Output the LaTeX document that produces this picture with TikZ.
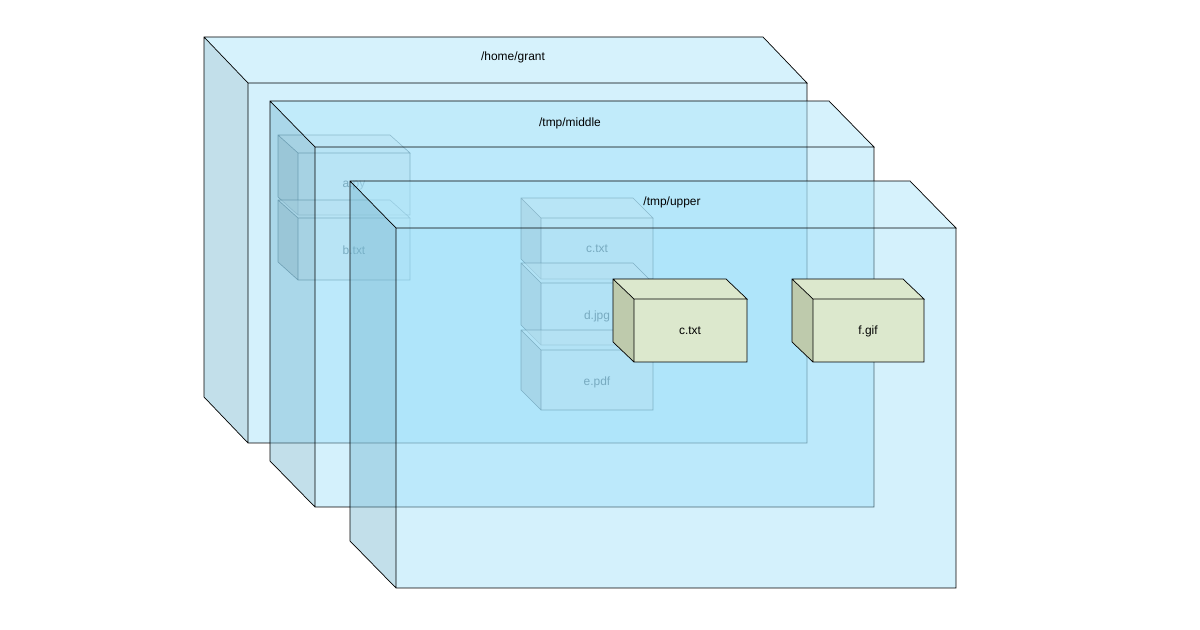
\documentclass[tikz,border=0pt]{standalone}
\usepackage{fontspec}
\setmainfont{Liberation Sans}
\definecolor{bfront}{RGB}{160,225,250}
\definecolor{btop}{RGB}{175,230,250}
\definecolor{bside}{RGB}{120,185,210}
\definecolor{gfront}{RGB}{220,232,205}
\definecolor{gside}{RGB}{190,202,172}
\definecolor{ffront}{RGB}{200,225,235}
\definecolor{fside}{RGB}{160,185,195}
\definecolor{fline}{RGB}{60,100,120}
% #1 x1, #2 y1 front top-left, #3 x2, #4 y2 front bottom-right, #5 dx, #6 dy, #7 style suffix
\newcommand\mycube[7]{%
  \fill[#7side] (#1,#2) -- ++(#5,#6) -- ++(0,#4-#2) -- (#1,#4) -- cycle;
  \fill[#7top] (#1,#2) -- ++(#5,#6) -- ++(#3-#1,0) -- (#3,#2) -- cycle;
  \fill[#7front] (#1,#2) rectangle (#3,#4);
  \draw[#7line] (#1,#4) -- ++(#5,#6) -- ++(0,#2-#4) -- ++(#3-#1,0) -- (#3,#2) -- (#1,#2) -- ++(#5,#6) (#1,#2) rectangle (#3,#4);
}
\tikzset{
  bigside/.style={fill=bside,fill opacity=0.45},
  bigtop/.style={fill=btop,fill opacity=0.5},
  bigfront/.style={fill=bfront,fill opacity=0.45},
  bigline/.style={draw=black,line width=1pt},
  grnside/.style={fill=gside},
  grntop/.style={fill=gfront},
  grnfront/.style={fill=gfront},
  grnline/.style={draw=black,line width=1pt},
  fadside/.style={fill=fside,fill opacity=0.55},
  fadtop/.style={fill=ffront,fill opacity=0.55},
  fadfront/.style={fill=ffront,fill opacity=0.55},
  fadline/.style={draw=fline,draw opacity=0.7,line width=0.8pt},
  lbl/.style={font=\fontsize{17}{20}\selectfont,text=black},
  flbl/.style={font=\fontsize{17}{20}\selectfont,text=fline,text opacity=0.8},
}
\begin{document}
\begin{tikzpicture}[x=0.05cm,y=-0.05cm]
\useasboundingbox (0,0) rectangle (1200,630);
\fill[white] (0,0) rectangle (1200,630);
% home
\mycube{248}{83}{807}{443}{-44}{-46}{big}
\node[lbl] (home) at (513,57) {/home/grant};
% a.py b.txt
\mycube{298}{153}{410}{215}{-20}{-18}{fad}
\mycube{298}{218}{410}{280}{-20}{-18}{fad}
\node[flbl] (apy) at (354,186) {a.py};
\node[flbl] (btxt) at (354,250) {b.txt};
% middle
\mycube{315}{147}{874}{507}{-45}{-46}{big}
\node[lbl] (mid) at (570,123) {/tmp/middle};
% stack
\mycube{541}{218}{653}{279}{-20}{-20}{fad}
\mycube{541}{283}{653}{345}{-20}{-20}{fad}
\mycube{541}{350}{653}{410}{-20}{-20}{fad}
\node[flbl] (ctxt1) at (597,249) {c.txt};
\node[flbl] (djpg) at (597,316) {d.jpg};
\node[flbl] (epdf) at (597,382) {e.pdf};
% upper
\mycube{396}{228}{956}{588}{-46}{-47}{big}
\node[lbl] (up) at (672,202) {/tmp/upper};
% front files
\mycube{634}{299}{747}{362}{-21}{-20}{grn}
\node[lbl] (ctxt2) at (690,331) {c.txt};
\mycube{813}{299}{924}{362}{-21}{-20}{grn}
\node[lbl] (fgif) at (868,331) {f.gif};
\end{tikzpicture}
\end{document}
